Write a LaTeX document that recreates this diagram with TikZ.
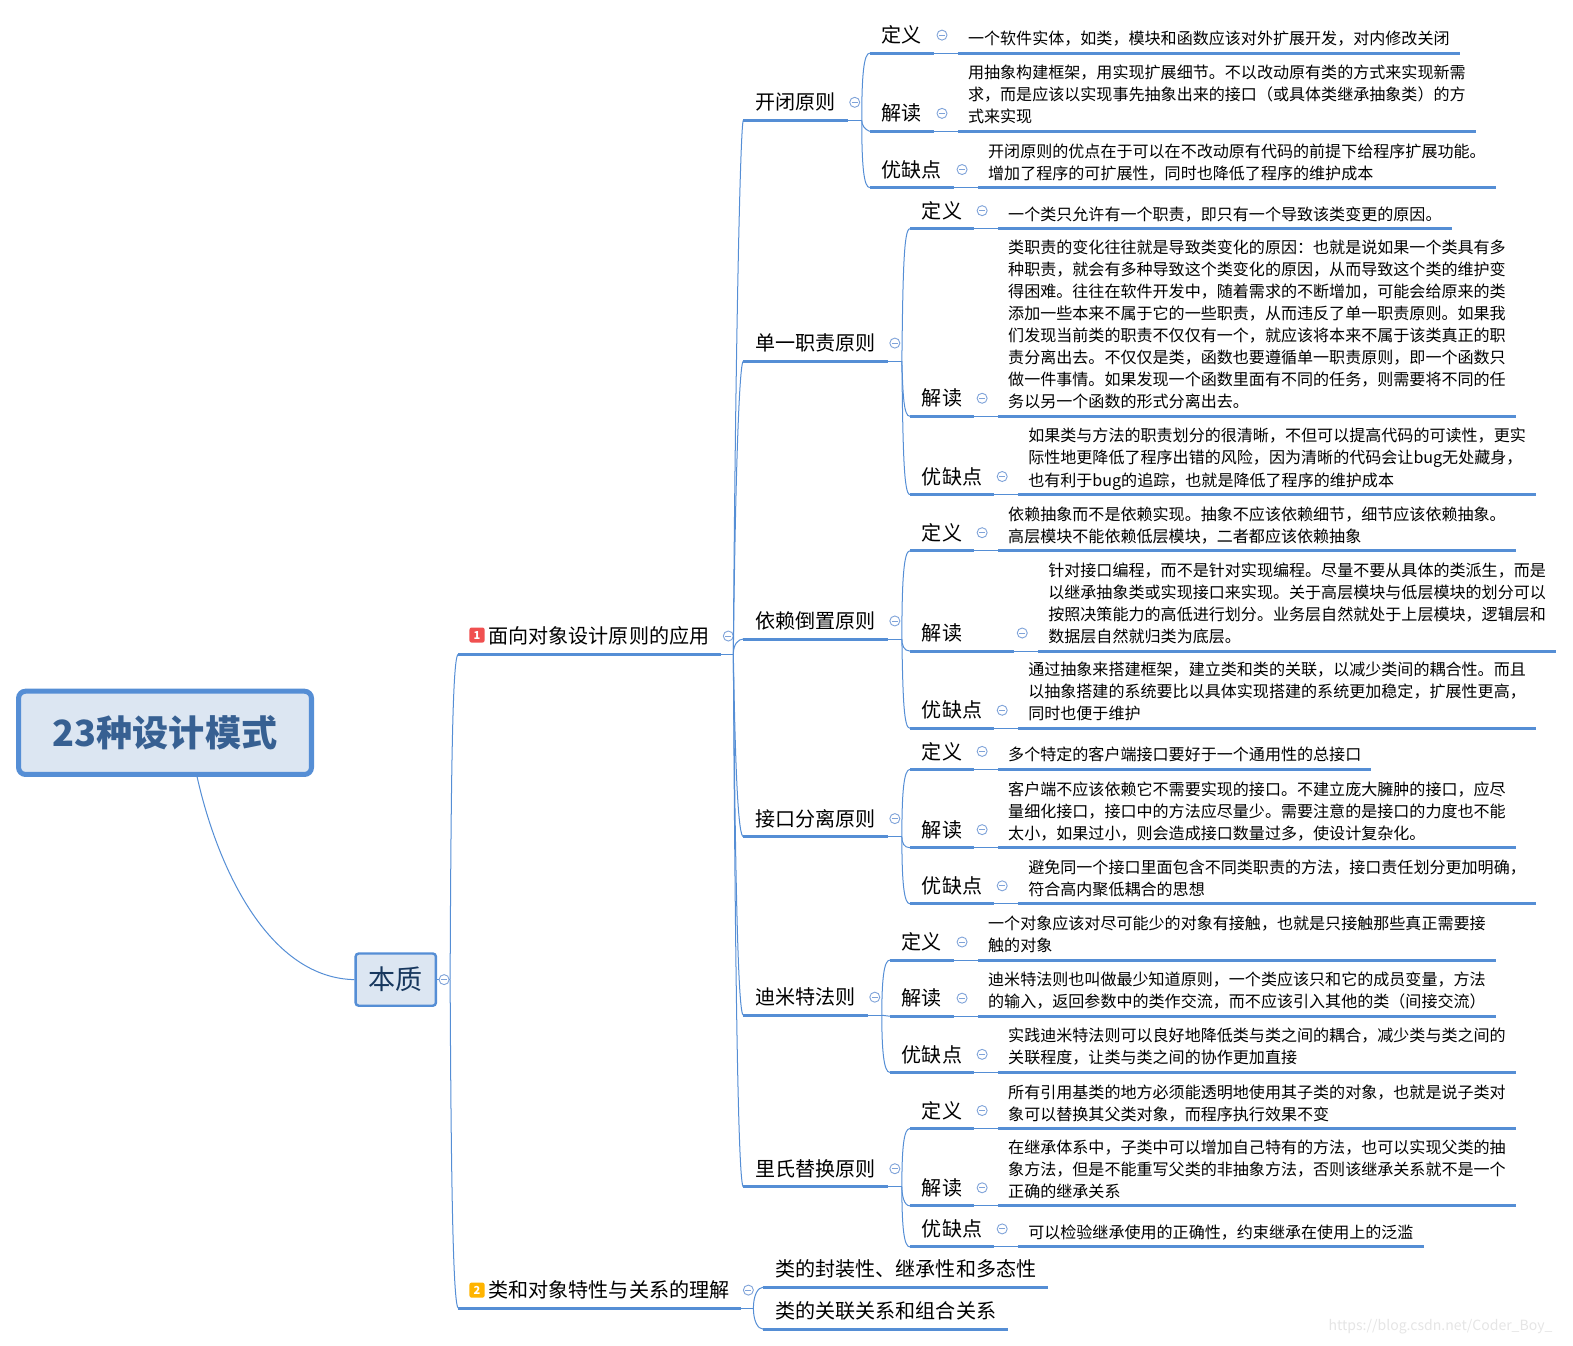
\documentclass[tikz,border=0pt]{standalone}
\usepackage{fontspec}
\setmainfont{Noto Sans CJK SC}
\usetikzlibrary{positioning}
\definecolor{linkblue}{HTML}{558ED5}
\definecolor{foldblue}{HTML}{7FA3D9}
\definecolor{rootfill}{HTML}{DCE6F2}
\definecolor{roottext}{HTML}{376092}
\definecolor{coretext}{HTML}{17375E}
\definecolor{badgered}{HTML}{F05050}
\definecolor{badgeamber}{HTML}{FFB400}
\tikzset{
    under/.style={draw=linkblue, line width=3pt},
    link/.style={draw=linkblue, line width=1pt},
    topic/.style={anchor=south west, inner xsep=12pt, inner ysep=0pt, outer sep=0pt, minimum height=36pt,
        font=\fontsize{20}{20}\selectfont,
        append after command={(\tikzlastnode.south west) edge[under] (\tikzlastnode.south east)}},
    note/.style={anchor=south west, inner xsep=10pt, inner ysep=0pt, outer sep=0pt, align=left, text depth=8.5pt,
        font=\fontsize{16}{22}\selectfont,
        append after command={(\tikzlastnode.south west) edge[under] (\tikzlastnode.south east)}},
    foldmark/.style={circle, draw=foldblue, fill=white, line width=0.9pt, minimum size=10pt, inner sep=0pt, outer sep=0pt,
        path picture={\draw[foldblue, line width=0.9pt] ([xshift=-3pt]path picture bounding box.center) -- ([xshift=3pt]path picture bounding box.center);}},
    badge/.style={rounded corners=2pt, minimum size=15pt, inner sep=0pt, text=white, font=\fontsize{11}{11}\selectfont\bfseries}
}
\begin{document}
\begin{tikzpicture}[x=1pt, y=-1pt]
    \useasboundingbox (0, 0) rectangle (1568, 1341);

    % root and centre
    \node[draw=linkblue, fill=rootfill, line width=5pt, rounded corners=7pt, minimum width=292pt, minimum height=83pt,
        text=roottext, font=\fontsize{36}{36}\selectfont\bfseries] (root) at (164.5, 730.5) {23种设计模式};
    \node[draw=linkblue, fill=rootfill, line width=2.4pt, rounded corners=3pt, minimum width=80pt, minimum height=52pt,
        text=coretext, font=\fontsize{27}{27}\selectfont] (core) at (394.5, 976.5) {本质};
    \draw[link] ([xshift=32pt]root.south) .. controls (218, 870) and (270, 975) .. (core.west);
    \coordinate (corehub) at ([xshift=13pt]core.east);
    \draw[link] (core.east) -- (corehub);
    \node[foldmark, right=2pt of core] (corefold) {};

    % first group
    \node[topic] (oop) at (457, 652) {\hspace*{18pt}面向对象设计原则的应用};
    \node[badge, fill=badgered] (oopbadge) at (475.5, 633) {1};
    \node[foldmark, right=2pt of oop] (oopfold) {};
    \coordinate (oophub) at ([xshift=12pt]oop.south east);
    \draw[link] (oop.south east) -- (oophub);
    \draw[link] (corehub) .. controls +(1, -250) and +(-5, 0) .. (oop.south west);

    % second group
    \node[topic] (cls) at (457, 1304) {\hspace*{18pt}类和对象特性与关系的理解};
    \node[badge, fill=badgeamber] (clsbadge) at (475.5, 1286) {2};
    \node[foldmark, right=2pt of cls] (clsfold) {};
    \coordinate (clshub) at ([xshift=12pt]cls.south east);
    \draw[link] (cls.south east) -- (clshub);
    \draw[link] (corehub) .. controls +(1, 220) and +(-5, 0) .. (cls.south west);
    \node[topic] (clsa) at (761, 1283) {类的封装性、继承性和多态性};
    \node[topic] (clsb) at (761, 1325) {类的关联关系和组合关系};
    \draw[link] (clshub) .. controls +(0, -12) and +(-6, 0) .. (clsa.south west);
    \draw[link] (clshub) .. controls +(0, 12) and +(-6, 0) .. (clsb.south west);

    % open closed
    \node[topic] (ocp) at (741, 120) {开闭原则};
    \node[foldmark, right=2pt of ocp] (ocpfold) {};
    \coordinate (ocphub) at ([xshift=14pt]ocp.south east);
    \draw[link] (ocp.south east) -- (ocphub);
    \draw[link] (oophub) .. controls +(2, -300) and +(-3, 0) .. (ocp.south west);

    \node[topic] (ocpdef) at (867, 53) {定义};
    \node[foldmark, right=3pt of ocpdef] (ocpdeffold) {};
    \node[note] (ocpdeftext) at ([xshift=24pt]ocpdef.south east) {一个软件实体，如类，模块和函数应该对外扩展开发，对内修改关闭};
    \node[topic] (ocpread) at (867, 131) {解读};
    \node[foldmark, right=3pt of ocpread] (ocpreadfold) {};
    \node[note] (ocpreadtext) at ([xshift=24pt]ocpread.south east) {用抽象构建框架，用实现扩展细节。不以改动原有类的方式来实现新需\\求，而是应该以实现事先抽象出来的接口（或具体类继承抽象类）的方\\式来实现};
    \node[topic] (ocppro) at (867, 187) {优缺点};
    \node[foldmark, right=3pt of ocppro] (ocpprofold) {};
    \node[note] (ocpprotext) at ([xshift=24pt]ocppro.south east) {开闭原则的优点在于可以在不改动原有代码的前提下给程序扩展功能。\\增加了程序的可扩展性，同时也降低了程序的维护成本};
    \draw[link] (ocpdef.south east) -- (ocpdeftext.south west);
    \draw[link] (ocpread.south east) -- (ocpreadtext.south west);
    \draw[link] (ocppro.south east) -- (ocpprotext.south west);
    \draw[link] (ocphub) .. controls +(0, -45) and +(-6, 0) .. (ocpdef.south west);
    \draw[link] (ocphub) .. controls +(0, 5) and +(-5, -2) .. (ocpread.south west);
    \draw[link] (ocphub) .. controls +(0, 45) and +(-6, 0) .. (ocppro.south west);

    % single responsibility
    \node[topic] (srp) at (741, 360) {单一职责原则};
    \node[foldmark, right=2pt of srp] (srpfold) {};
    \coordinate (srphub) at ([xshift=14pt]srp.south east);
    \draw[link] (srp.south east) -- (srphub);
    \draw[link] (oophub) .. controls +(2, -180) and +(-4, 0) .. (srp.south west);

    \node[topic] (srpdef) at (907, 228) {定义};
    \node[foldmark, right=3pt of srpdef] (srpdeffold) {};
    \node[note] (srpdeftext) at ([xshift=24pt]srpdef.south east) {一个类只允许有一个职责，即只有一个导致该类变更的原因。};
    \node[topic] (srpread) at (907, 415) {解读};
    \node[foldmark, right=3pt of srpread] (srpreadfold) {};
    \node[note] (srpreadtext) at ([xshift=24pt]srpread.south east) {类职责的变化往往就是导致类变化的原因：也就是说如果一个类具有多\\种职责，就会有多种导致这个类变化的原因，从而导致这个类的维护变\\得困难。往往在软件开发中，随着需求的不断增加，可能会给原来的类\\添加一些本来不属于它的一些职责，从而违反了单一职责原则。如果我\\们发现当前类的职责不仅仅有一个，就应该将本来不属于该类真正的职\\责分离出去。不仅仅是类，函数也要遵循单一职责原则，即一个函数只\\做一件事情。如果发现一个函数里面有不同的任务，则需要将不同的任\\务以另一个函数的形式分离出去。};
    \node[topic] (srppro) at (907, 493) {优缺点};
    \node[foldmark, right=3pt of srppro] (srpprofold) {};
    \node[note] (srpprotext) at ([xshift=24pt]srppro.south east) {如果类与方法的职责划分的很清晰，不但可以提高代码的可读性，更实\\际性地更降低了程序出错的风险，因为清晰的代码会让bug无处藏身，\\也有利于bug的追踪，也就是降低了程序的维护成本};
    \draw[link] (srpdef.south east) -- (srpdeftext.south west);
    \draw[link] (srpread.south east) -- (srpreadtext.south west);
    \draw[link] (srppro.south east) -- (srpprotext.south west);
    \draw[link] (srphub) .. controls +(1, -90) and +(-6, 0) .. (srpdef.south west);
    \draw[link] (srphub) .. controls +(1, 35) and +(-6, 0) .. (srpread.south west);
    \draw[link] (srphub) .. controls +(1, 90) and +(-6, 0) .. (srppro.south west);

    % dependency inversion
    \node[topic] (dip) at (741, 637) {依赖倒置原则};
    \node[foldmark, right=2pt of dip] (dipfold) {};
    \coordinate (diphub) at ([xshift=14pt]dip.south east);
    \draw[link] (dip.south east) -- (diphub);
    \draw[link] (oophub) .. controls +(0, -10) and +(-5, 0) .. (dip.south west);

    \node[topic] (dipdef) at (907, 549) {定义};
    \node[foldmark, right=3pt of dipdef] (dipdeffold) {};
    \node[note] (dipdeftext) at ([xshift=24pt]dipdef.south east) {依赖抽象而不是依赖实现。抽象不应该依赖细节，细节应该依赖抽象。\\高层模块不能依赖低层模块，二者都应该依赖抽象};
    \node[topic] (dipread) at (907, 649) {解读\hspace*{40pt}};
    \node[foldmark, right=3pt of dipread] (dipreadfold) {};
    \node[note] (dipreadtext) at ([xshift=24pt]dipread.south east) {针对接口编程，而不是针对实现编程。尽量不要从具体的类派生，而是\\以继承抽象类或实现接口来实现。关于高层模块与低层模块的划分可以\\按照决策能力的高低进行划分。业务层自然就处于上层模块，逻辑层和\\数据层自然就归类为底层。};
    \node[topic] (dippro) at (907, 726) {优缺点};
    \node[foldmark, right=3pt of dippro] (dipprofold) {};
    \node[note] (dipprotext) at ([xshift=24pt]dippro.south east) {通过抽象来搭建框架，建立类和类的关联，以减少类间的耦合性。而且\\以抽象搭建的系统要比以具体实现搭建的系统更加稳定，扩展性更高，\\同时也便于维护};
    \draw[link] (dipdef.south east) -- (dipdeftext.south west);
    \draw[link] (dipread.south east) -- (dipreadtext.south west);
    \draw[link] (dippro.south east) -- (dipprotext.south west);
    \draw[link] (diphub) .. controls +(0, -60) and +(-6, 0) .. (dipdef.south west);
    \draw[link] (diphub) .. controls +(0, 6) and +(-6, 0) .. (dipread.south west);
    \draw[link] (diphub) .. controls +(1, 60) and +(-6, 0) .. (dippro.south west);

    % interface segregation
    \node[topic] (isp) at (741, 834) {接口分离原则};
    \node[foldmark, right=2pt of isp] (ispfold) {};
    \coordinate (isphub) at ([xshift=14pt]isp.south east);
    \draw[link] (isp.south east) -- (isphub);
    \draw[link] (oophub) .. controls +(2, 120) and +(-5, 0) .. (isp.south west);

    \node[topic] (ispdef) at (907, 767) {定义};
    \node[foldmark, right=3pt of ispdef] (ispdeffold) {};
    \node[note] (ispdeftext) at ([xshift=24pt]ispdef.south east) {多个特定的客户端接口要好于一个通用性的总接口};
    \node[topic] (ispread) at (907, 845) {解读};
    \node[foldmark, right=3pt of ispread] (ispreadfold) {};
    \node[note] (ispreadtext) at ([xshift=24pt]ispread.south east) {客户端不应该依赖它不需要实现的接口。不建立庞大臃肿的接口，应尽\\量细化接口，接口中的方法应尽量少。需要注意的是接口的力度也不能\\太小，如果过小，则会造成接口数量过多，使设计复杂化。};
    \node[topic] (isppro) at (907, 901) {优缺点};
    \node[foldmark, right=3pt of isppro] (ispprofold) {};
    \node[note] (ispprotext) at ([xshift=24pt]isppro.south east) {避免同一个接口里面包含不同类职责的方法，接口责任划分更加明确，\\符合高内聚低耦合的思想};
    \draw[link] (ispdef.south east) -- (ispdeftext.south west);
    \draw[link] (ispread.south east) -- (ispreadtext.south west);
    \draw[link] (isppro.south east) -- (ispprotext.south west);
    \draw[link] (isphub) .. controls +(0, -45) and +(-6, 0) .. (ispdef.south west);
    \draw[link] (isphub) .. controls +(0, 6) and +(-6, 0) .. (ispread.south west);
    \draw[link] (isphub) .. controls +(0, 45) and +(-6, 0) .. (isppro.south west);

    % demeter
    \node[topic] (lod) at (741, 1012) {迪米特法则};
    \node[foldmark, right=2pt of lod] (lodfold) {};
    \coordinate (lodhub) at ([xshift=14pt]lod.south east);
    \draw[link] (lod.south east) -- (lodhub);
    \draw[link] (oophub) .. controls +(2, 240) and +(-5, 0) .. (lod.south west);

    \node[topic] (loddef) at (887, 957) {定义};
    \node[foldmark, right=3pt of loddef] (loddeffold) {};
    \node[note] (loddeftext) at ([xshift=24pt]loddef.south east) {一个对象应该对尽可能少的对象有接触，也就是只接触那些真正需要接\\触的对象};
    \node[topic] (lodread) at (887, 1013) {解读};
    \node[foldmark, right=3pt of lodread] (lodreadfold) {};
    \node[note] (lodreadtext) at ([xshift=24pt]lodread.south east) {迪米特法则也叫做最少知道原则，一个类应该只和它的成员变量，方法\\的输入，返回参数中的类作交流，而不应该引入其他的类（间接交流）};
    \node[topic] (lodpro) at (887, 1069) {优缺点};
    \node[foldmark, right=3pt of lodpro] (lodprofold) {};
    \node[note] (lodprotext) at ([xshift=24pt]lodpro.south east) {实践迪米特法则可以良好地降低类与类之间的耦合，减少类与类之间的\\关联程度，让类与类之间的协作更加直接};
    \draw[link] (loddef.south east) -- (loddeftext.south west);
    \draw[link] (lodread.south east) -- (lodreadtext.south west);
    \draw[link] (lodpro.south east) -- (lodprotext.south west);
    \draw[link] (lodhub) .. controls +(0, -35) and +(-6, 0) .. (loddef.south west);
    \draw[link] (lodhub) -- (lodread.south west);
    \draw[link] (lodhub) .. controls +(0, 35) and +(-6, 0) .. (lodpro.south west);

    % liskov
    \node[topic] (lsp) at (741, 1183) {里氏替换原则};
    \node[foldmark, right=2pt of lsp] (lspfold) {};
    \coordinate (lsphub) at ([xshift=14pt]lsp.south east);
    \draw[link] (lsp.south east) -- (lsphub);
    \draw[link] (oophub) .. controls +(2, 340) and +(-5, 0) .. (lsp.south west);

    \node[topic] (lspdef) at (907, 1125) {定义};
    \node[foldmark, right=3pt of lspdef] (lspdeffold) {};
    \node[note] (lspdeftext) at ([xshift=24pt]lspdef.south east) {所有引用基类的地方必须能透明地使用其子类的对象，也就是说子类对\\象可以替换其父类对象，而程序执行效果不变};
    \node[topic] (lspread) at (907, 1202) {解读};
    \node[foldmark, right=3pt of lspread] (lspreadfold) {};
    \node[note] (lspreadtext) at ([xshift=24pt]lspread.south east) {在继承体系中，子类中可以增加自己特有的方法，也可以实现父类的抽\\象方法，但是不能重写父类的非抽象方法，否则该继承关系就不是一个\\正确的继承关系};
    \node[topic] (lsppro) at (907, 1243) {优缺点};
    \node[foldmark, right=3pt of lsppro] (lspprofold) {};
    \node[note] (lspprotext) at ([xshift=24pt]lsppro.south east) {可以检验继承使用的正确性，约束继承在使用上的泛滥};
    \draw[link] (lspdef.south east) -- (lspdeftext.south west);
    \draw[link] (lspread.south east) -- (lspreadtext.south west);
    \draw[link] (lsppro.south east) -- (lspprotext.south west);
    \draw[link] (lsphub) .. controls +(0, -40) and +(-6, 0) .. (lspdef.south west);
    \draw[link] (lsphub) .. controls +(0, 8) and +(-6, 0) .. (lspread.south west);
    \draw[link] (lsphub) .. controls +(0, 40) and +(-6, 0) .. (lsppro.south west);

    \node[anchor=east, text=black!10, font=\fontsize{14}{14}\selectfont] (mark) at (1551, 1322) {https://blog.csdn.net/Coder\_Boy\_};
\end{tikzpicture}
\end{document}
